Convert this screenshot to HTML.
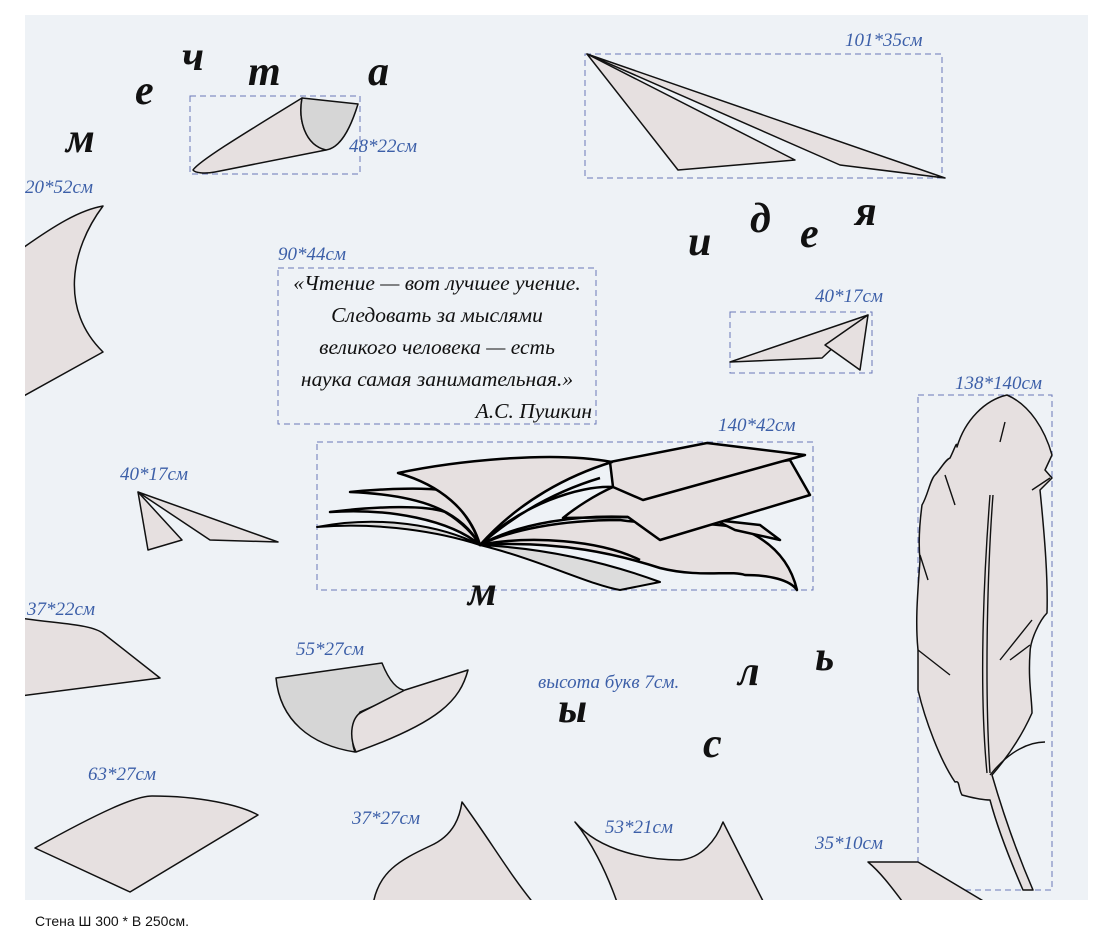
<!DOCTYPE html>
<html><head><meta charset="utf-8"><style>
html,body{margin:0;padding:0;background:#fff;}
svg{display:block;}
.l{font-family:"Liberation Serif",serif;font-style:italic;font-size:19px;fill:#3c5fa8;}
.b{font-family:"Liberation Serif",serif;font-style:italic;font-weight:bold;font-size:42px;fill:#111;}
.q{font-family:"Liberation Serif",serif;font-style:italic;font-size:21.5px;fill:#111;}
.box{fill:none;stroke:#6a78b8;stroke-width:1;stroke-dasharray:6,4;}
.s{fill:#e6e0e0;stroke:#111;stroke-width:1.5;stroke-linejoin:round;}
.d{fill:#d6d6d6;stroke:#111;stroke-width:1.5;stroke-linejoin:round;}
.bk{fill:#e6e0e0;stroke:#000;stroke-width:2.5;stroke-linejoin:round;}
.bg{fill:#dcdcdc;stroke:#000;stroke-width:2;stroke-linejoin:round;}
</style></head><body>
<svg width="1108" height="941" viewBox="0 0 1108 941" xmlns="http://www.w3.org/2000/svg">
<rect x="25" y="15" width="1063" height="885" fill="#eef2f6"/>
<defs><clipPath id="c"><rect x="25" y="15" width="1063" height="885"/></clipPath></defs>
<g clip-path="url(#c)">
<rect class="box" x="190" y="96" width="170" height="78"/>
<rect class="box" x="585" y="54" width="357" height="124"/>
<rect class="box" x="278" y="268" width="318" height="156"/>
<rect class="box" x="730" y="312" width="142" height="61"/>
<rect class="box" x="317" y="442" width="496" height="148"/>
<rect class="box" x="918" y="395" width="134" height="495"/>

<!-- curl 48*22 -->
<path class="s" d="M193,170 C200,160 250,130 302,98 C298,120 305,145 326,150 L215,172 C205,174 195,173 193,170 Z"/>
<path class="d" d="M302,98 C298,120 305,145 326,150 C340,148 350,130 358,104 Z"/>

<!-- plane 101*35 -->
<path class="s" d="M587,54 L678,170 L795,160 Z"/>
<path class="s" d="M587,54 L945,178 L840,165 Z"/>

<path class="s" d="M868,315 L730,362 L822,358 Z"/>
<path class="s" d="M868,315 L860,370 L825,345 Z"/>

<path class="s" d="M138,492 L148,550 L182,540 Z"/>
<path class="s" d="M138,492 L278,542 L210,540 Z"/>

<path class="s" d="M20,250 C55,225 80,210 103,206 C70,250 60,310 103,352 L20,398 Z"/>
<path class="s" d="M20,618 C60,624 92,624 104,634 L160,678 L20,696 Z"/>
<path class="d" d="M276,678 L382,663 C392,688 402,692 410,690 L360,712 C350,728 352,745 355,752 C310,745 280,720 276,678 Z"/>
<path class="s" d="M405,690 L468,670 C460,700 440,722 356,752 C348,735 352,716 362,712 Z"/>
<path class="s" d="M35,848 C100,812 135,796 152,796 C200,796 240,805 258,815 L130,892 Z"/>
<path class="s" d="M373,905 C378,872 400,860 430,846 C455,835 460,815 462,802 C490,840 510,875 535,905 Z"/>
<path class="s" d="M575,822 C600,852 650,860 680,860 C702,858 716,840 723,822 L765,905 L618,905 C606,870 590,840 575,822 Z"/>
<path class="s" d="M868,862 L918,862 L990,905 L905,905 C890,885 880,872 868,862 Z"/>

<!-- feather -->
<path class="s" d="M1007,395 C1030,405 1045,430 1052,455 L1045,470 L1052,478 L1040,490 C1045,540 1048,580 1047,613 C1040,620 1030,640 1030,653 C1028,680 1032,700 1032,713 C1020,740 1005,760 992,775 C1005,820 1020,860 1033,890 L1023,890 C1010,860 998,830 990,800 C980,800 970,797 962,795 C958,788 960,780 955,782 C940,760 925,720 918,690 L918,650 C915,620 918,590 920,560 C918,540 920,520 922,505 C928,495 930,480 935,475 C940,470 945,460 950,458 C955,448 957,440 957,447 C965,420 985,400 1007,395 Z"/>
<path d="M990,495 C985,560 978,680 987,773 M993,495 C988,560 984,680 990,773" stroke="#111" stroke-width="1.4" fill="none"/>
<path d="M1005,422 L1000,442 M1050,478 L1032,490 M1032,620 L1000,660 M1030,645 L1010,660 M945,475 L955,505 M920,555 L928,580 M918,650 L950,675 M990,775 C1010,750 1030,742 1045,742" stroke="#111" stroke-width="1.4" fill="none"/>

<!-- book -->
<path class="bg" d="M480,545 C540,560 590,585 620,590 L660,582 C600,560 540,548 480,545 Z"/>
<path class="bk" d="M480,545 C560,540 620,555 660,568 C700,578 730,570 745,575 C770,575 790,580 797,590 C790,560 770,540 740,528 C700,520 650,525 620,520 C560,520 510,530 480,545 Z"/>
<path class="bk" d="M715,520 L760,525 L780,540 L735,530 Z"/>
<path class="bk" d="M563,518 L628,517 L660,540 L810,495 L790,460 L613,487 C595,495 575,508 563,518 Z"/>
<path class="bk" d="M610,462 L707,443 L805,455 L643,500 L613,487 Z"/>
<path d="M480,545 C520,505 580,485 613,487 M480,545 C520,522 580,515 628,517 M480,545 C530,535 600,540 640,560 M480,545 C520,510 560,490 600,478" stroke="#000" stroke-width="2.5" fill="none"/>
<!-- left leaves -->
<path class="bg" d="M480,545 C440,525 380,515 317,527 C380,522 440,532 480,545 Z"/>
<path class="bk" d="M480,545 C450,520 390,508 330,512 C380,506 425,505 445,512 C462,522 474,535 480,545 Z"/>
<path class="bk" d="M480,545 C460,510 420,495 350,492 C390,488 425,488 440,490 C460,505 474,525 480,545 Z"/>
<path class="bk" d="M480,545 C470,510 440,485 398,473 C450,462 550,450 612,462 C570,475 520,500 480,545 Z"/>
</g>

<text class="l" x="349" y="152">48*22см</text>
<text class="l" x="845" y="46">101*35см</text>
<text class="l" x="278" y="260">90*44см</text>
<text class="l" x="815" y="302">40*17см</text>
<text class="l" x="718" y="431">140*42см</text>
<text class="l" x="955" y="389">138*140см</text>
<text class="l" x="25" y="193">20*52см</text>
<text class="l" x="120" y="480">40*17см</text>
<text class="l" x="27" y="615">37*22см</text>
<text class="l" x="296" y="655">55*27см</text>
<text class="l" x="88" y="780">63*27см</text>
<text class="l" x="352" y="824">37*27см</text>
<text class="l" x="605" y="833">53*21см</text>
<text class="l" x="815" y="849">35*10см</text>
<text class="l" x="538" y="688">высота букв 7см.</text>

<text class="b" x="66" y="152">м</text>
<text class="b" x="135" y="104">е</text>
<text class="b" x="182" y="70">ч</text>
<text class="b" x="248" y="85">т</text>
<text class="b" x="368" y="85">а</text>
<text class="b" x="688" y="255">и</text>
<text class="b" x="750" y="232">д</text>
<text class="b" x="800" y="247">е</text>
<text class="b" x="855" y="225">я</text>
<text class="b" x="468" y="605">м</text>
<text class="b" x="558" y="722">ы</text>
<text class="b" x="703" y="757">с</text>
<text class="b" x="738" y="685">л</text>
<text class="b" x="815" y="670">ь</text>

<text class="q" x="437" y="290" text-anchor="middle">«Чтение — вот лучшее учение.</text>
<text class="q" x="437" y="322" text-anchor="middle">Следовать за мыслями</text>
<text class="q" x="437" y="354" text-anchor="middle">великого человека — есть</text>
<text class="q" x="437" y="386" text-anchor="middle">наука самая занимательная.»</text>
<text class="q" x="592" y="418" text-anchor="end">А.С. Пушкин</text>

<text x="35" y="926" font-family="Liberation Sans, sans-serif" font-size="14" fill="#111">Стена Ш 300 * В 250см.</text>
</svg>
</body></html>
